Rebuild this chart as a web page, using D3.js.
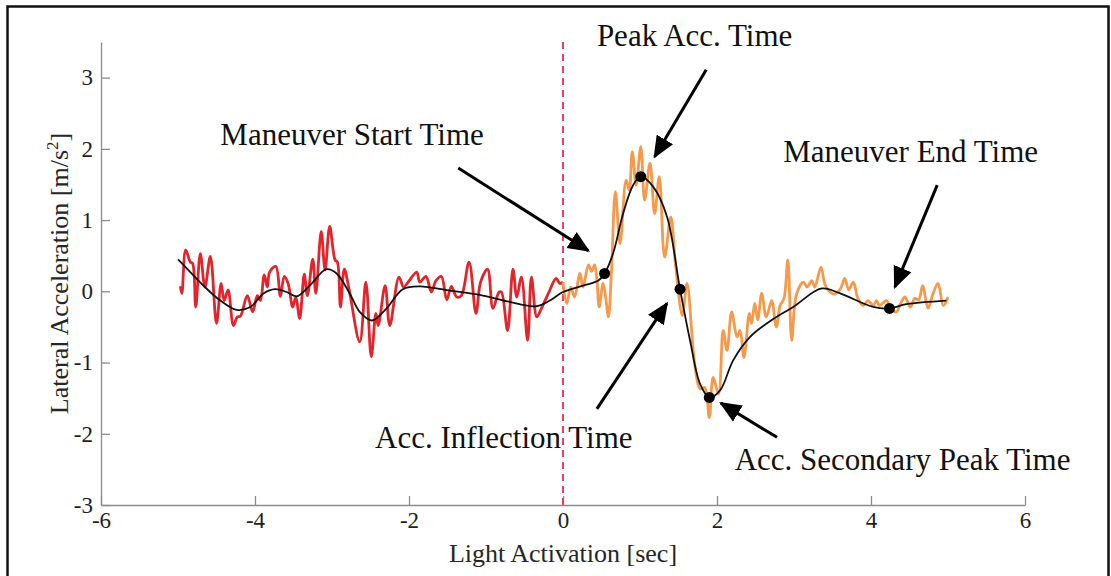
<!DOCTYPE html>
<html lang="en">
<head>
<meta charset="UTF-8">
<script src="https://d3js.org/d3.v7.min.js"></script>
<style>
  body { margin: 0; background: #fff; }
  svg text { font-family: "Liberation Serif", "Times New Roman", serif; }
</style>
</head>
<body>
<div id="chart_area"></div>
<script>
// raw lateral acceleration before light activation (red) and after (orange)
var rawBefore = [
  [-4.97,0.07],[-4.95,-0.03],[-4.90,0.58],[-4.84,0.41],[-4.81,0.39],[-4.77,-0.22],[-4.71,0.53],[-4.65,0.06],
  [-4.58,0.49],[-4.50,-0.45],[-4.44,0.11],[-4.40,-0.13],[-4.35,0.02],[-4.28,-0.48],[-4.23,-0.36],[-4.19,-0.35],
  [-4.10,-0.06],[-4.03,-0.29],[-3.97,-0.06],[-3.93,-0.13],[-3.88,0.23],[-3.84,0.06],[-3.81,0.27],[-3.73,0.35],
  [-3.67,-0.07],[-3.62,0.21],[-3.57,0.11],[-3.51,-0.22],[-3.47,-0.08],[-3.42,-0.38],[-3.36,0.24],[-3.32,-0.06],
  [-3.25,0.45],[-3.21,-0.03],[-3.14,0.84],[-3.09,0.30],[-3.03,0.91],[-2.96,0.44],[-2.93,0.41],[-2.89,-0.22],
  [-2.84,0.31],[-2.78,0.04],[-2.64,-0.71],[-2.56,0.13],[-2.49,-0.92],[-2.43,-0.31],[-2.40,-0.48],[-2.31,0.08],
  [-2.25,-0.48],[-2.13,0.20],[-2.07,0.06],[-2.01,0.13],[-1.90,0.27],[-1.86,0.13],[-1.78,0.21],[-1.71,-0.01],
  [-1.65,0.15],[-1.58,0.21],[-1.51,-0.12],[-1.45,0.07],[-1.38,-0.08],[-1.32,-0.06],[-1.22,0.41],[-1.13,-0.31],
  [-1.07,0.13],[-0.98,0.31],[-0.91,-0.24],[-0.83,-0.01],[-0.80,-0.01],[-0.72,-0.55],[-0.65,0.31],[-0.60,-0.08],
  [-0.54,0.20],[-0.46,-0.69],[-0.41,0.20],[-0.34,-0.36],[-0.28,-0.24],[-0.19,-0.03],[-0.09,0.18],[-0.04,0.11],
  [0.0,0.13]
];
var rawAfter = [
  [0.0,0.13],[0.05,-0.17],[0.10,0.06],[0.15,-0.08],[0.22,0.25],[0.26,0.06],[0.33,0.37],[0.37,0.28],
  [0.41,0.37],[0.44,0.17],[0.47,-0.22],[0.52,0.11],[0.55,-0.05],[0.59,-0.36],[0.63,0.30],[0.68,1.40],
  [0.74,0.67],[0.82,1.56],[0.86,1.42],[0.90,1.96],[0.95,1.49],[1.01,2.03],[1.06,1.28],[1.13,1.80],
  [1.19,1.09],[1.25,1.61],[1.32,0.48],[1.40,1.04],[1.46,0.39],[1.55,-0.34],[1.61,0.11],[1.71,-1.02],
  [1.78,-1.37],[1.84,-1.35],[1.90,-1.77],[1.95,-1.21],[2.02,-1.44],[2.08,-0.55],[2.13,-0.83],[2.19,-0.29],
  [2.26,-0.64],[2.30,-0.55],[2.35,-0.93],[2.42,-0.31],[2.45,-0.45],[2.49,-0.17],[2.53,-0.40],[2.58,-0.03],
  [2.64,-0.36],[2.71,-0.13],[2.77,-0.50],[2.82,-0.20],[2.87,-0.10],[2.92,0.44],[2.97,-0.69],[3.03,-0.05],
  [3.12,0.13],[3.17,0.06],[3.23,0.15],[3.27,0.06],[3.35,0.34],[3.40,0.10],[3.45,0.01],[3.52,-0.04],
  [3.60,0.03],[3.66,0.18],[3.71,0.02],[3.77,0.13],[3.83,-0.10],[3.90,-0.20],[3.96,-0.13],[4.03,-0.20],
  [4.07,-0.13],[4.11,-0.20],[4.20,-0.13],[4.26,-0.25],[4.33,-0.29],[4.38,-0.18],[4.44,-0.08],[4.51,-0.22],
  [4.57,-0.10],[4.62,-0.12],[4.67,0.08],[4.74,-0.24],[4.80,-0.05],[4.87,0.11],[4.94,-0.20],[5.0,-0.08]
];
// filtered signal
var filtered = [
  [-5.0,0.45],[-4.84,0.27],[-4.67,0.08],[-4.45,-0.13],[-4.24,-0.26],[-4.06,-0.22],[-3.89,-0.03],[-3.74,0.03],
  [-3.59,-0.01],[-3.46,-0.07],[-3.29,0.08],[-3.07,0.31],[-2.94,0.25],[-2.77,-0.03],[-2.64,-0.29],[-2.48,-0.41],
  [-2.30,-0.25],[-2.08,0.03],[-1.86,0.07],[-1.47,0.01],[-1.04,-0.06],[-0.69,-0.15],[-0.34,-0.21],[-0.17,-0.13],
  [0.0,-0.01],[0.26,0.08],[0.46,0.15],[0.54,0.25],[0.65,0.53],[0.78,1.09],[0.91,1.49],[1.01,1.61],
  [1.17,1.47],[1.35,1.05],[1.52,0.03],[1.65,-0.69],[1.78,-1.30],[1.90,-1.49],[2.04,-1.39],[2.21,-0.97],
  [2.43,-0.64],[2.73,-0.39],[2.99,-0.22],[3.36,0.04],[3.60,-0.03],[4.03,-0.22],[4.24,-0.24],[4.46,-0.18],
  [4.98,-0.13]
];
// event markers
var eventTimes = [0.54, 1.01, 1.52, 1.90, 4.24];
var eventAcc = [0.25, 1.61, 0.03, -1.49, -0.24];

// annotations (data units)
var noteLabels = ["Maneuver Start Time", "Peak Acc. Time", "Maneuver End Time", "Acc. Inflection Time", "Acc. Secondary Peak Time"];
var noteText = [[-4.45, 2.06], [0.44, 3.44], [2.86, 1.82], [-2.44, -2.20], [2.23, -2.51]];
var arrowFrom = [[-1.36, 1.73], [1.86, 3.11], [4.86, 1.49], [0.44, -1.65], [2.78, -2.05]];
var arrowTo = [[0.33, 0.57], [1.19, 1.89], [4.31, 0.06], [1.35, -0.17], [2.05, -1.57]];

var xTicks = [-6, -4, -2, 0, 2, 4, 6];
var yTicks = [-3, -2, -1, 0, 1, 2, 3];

var W = 1111, H = 576;
var margin = { top: 42, right: 86, bottom: 71, left: 101 };

var svg = d3.select("#chart_area").append("svg")
  .attr("width", W).attr("height", H);

// outer frame
svg.append("rect")
  .attr("x", 7.5).attr("y", 6.5).attr("width", 1101).attr("height", 600)
  .attr("fill", "none").attr("stroke", "#111").attr("stroke-width", 2.5);

var x = d3.scaleLinear().domain([-6, 6]).range([margin.left, W - margin.right]);
var y = d3.scaleLinear().domain([-3, 3.5]).range([H - margin.bottom, margin.top]);

var axisColor = "#8c8c8c";

var gx = svg.append("g")
  .attr("transform", "translate(0," + y(-3) + ")")
  .call(d3.axisBottom(x).tickValues(xTicks).tickSizeInner(-9).tickSizeOuter(0).tickPadding(7)
    .tickFormat(function(d) { return String(d); }));
var gy = svg.append("g")
  .attr("transform", "translate(" + x(-6) + ",0)")
  .call(d3.axisLeft(y).tickValues(yTicks).tickSizeInner(-9).tickSizeOuter(0).tickPadding(8)
    .tickFormat(function(d) { return String(d); }));
[gx, gy].forEach(function(g) {
  g.select(".domain").attr("stroke", axisColor).attr("stroke-width", 1.3);
  g.selectAll(".tick line").attr("stroke", axisColor).attr("stroke-width", 1.3);
  g.selectAll(".tick text").attr("fill", "#1e1e1e")
    .style("font-family", "Liberation Serif")
    .style("font-size", "23px");
});

// axis titles
svg.append("text")
  .attr("x", x(0)).attr("y", 562)
  .attr("text-anchor", "middle").attr("fill", "#262626")
  .style("font-size", "26px")
  .text("Light Activation [sec]");

var yl = svg.append("text")
  .attr("transform", "translate(68," + ((y(-3) + y(3.5)) / 2) + ") rotate(-90)")
  .attr("text-anchor", "middle").attr("fill", "#262626")
  .style("font-size", "26px");
yl.append("tspan").text("Lateral Acceleration [m/s");
yl.append("tspan").attr("dy", -10).style("font-size", "17px").text("2");
yl.append("tspan").attr("dy", 10).text("]");

// light activation line
svg.append("line")
  .attr("x1", x(0)).attr("x2", x(0))
  .attr("y1", y(3.5)).attr("y2", y(-3))
  .attr("stroke", "#ee4060").attr("stroke-width", 2)
  .attr("stroke-dasharray", "7,5");

var line = d3.line()
  .x(function(d) { return x(d[0]); })
  .y(function(d) { return y(d[1]); })
  .curve(d3.curveCatmullRom.alpha(0.5));

svg.append("path").datum(rawBefore)
  .attr("d", line).attr("fill", "none")
  .attr("stroke", "#e3242b").attr("stroke-width", 2.8).attr("stroke-linejoin", "round");
svg.append("path").datum(rawAfter)
  .attr("d", line).attr("fill", "none")
  .attr("stroke", "#f7984a").attr("stroke-width", 2.8).attr("stroke-linejoin", "round");
svg.append("path").datum(filtered)
  .attr("d", line).attr("fill", "none")
  .attr("stroke", "#111").attr("stroke-width", 1.8);

svg.selectAll("circle.ev")
  .data(eventTimes)
  .enter().append("circle")
  .attr("class", "ev")
  .attr("cx", function(d) { return x(d); })
  .attr("cy", function(d, i) { return y(eventAcc[i]); })
  .attr("r", 5.5)
  .attr("fill", "#000");

// arrows
svg.append("defs").append("marker")
  .attr("id", "head")
  .attr("markerUnits", "userSpaceOnUse")
  .attr("viewBox", "0 -10 22 20")
  .attr("markerWidth", 22).attr("markerHeight", 20)
  .attr("refX", 20).attr("refY", 0)
  .attr("orient", "auto")
  .append("path")
  .attr("d", "M0,-9.5L22,0L0,9.5Z")
  .attr("fill", "#000");

svg.selectAll("line.arrow")
  .data(arrowFrom)
  .enter().append("line")
  .attr("class", "arrow")
  .attr("x1", function(d) { return x(d[0]); })
  .attr("y1", function(d) { return y(d[1]); })
  .attr("x2", function(d, i) { return x(arrowTo[i][0]); })
  .attr("y2", function(d, i) { return y(arrowTo[i][1]); })
  .attr("stroke", "#000").attr("stroke-width", 3)
  .attr("marker-end", "url(#head)");

svg.selectAll("text.note")
  .data(noteLabels)
  .enter().append("text")
  .attr("class", "note")
  .attr("x", function(d, i) { return x(noteText[i][0]); })
  .attr("y", function(d, i) { return y(noteText[i][1]); })
  .attr("fill", "#111")
  .style("font-size", "31px")
  .text(function(d) { return d; });
</script>
</body>
</html>
